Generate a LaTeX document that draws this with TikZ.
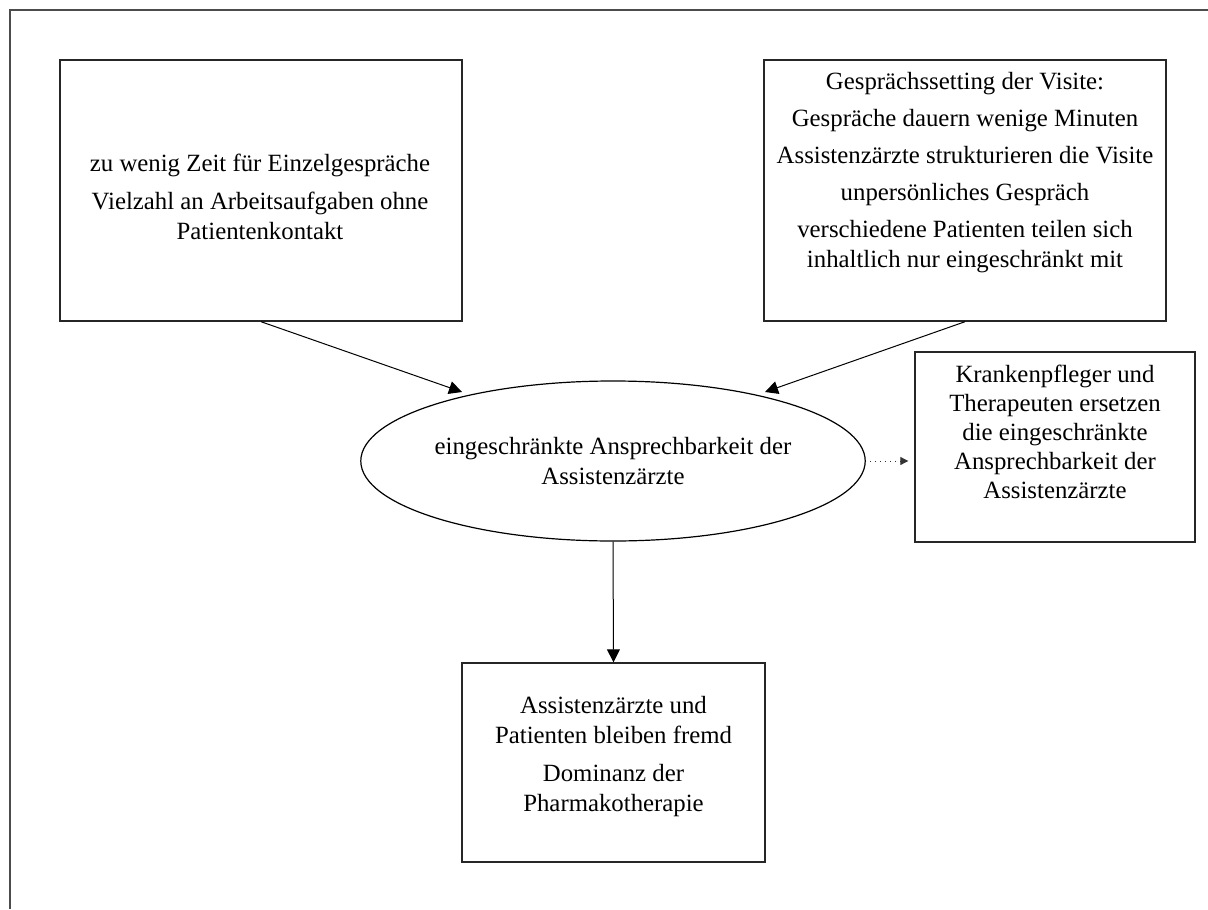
\documentclass[tikz,border=0pt]{standalone}
\usepackage{fontspec}
\setmainfont{Liberation Serif}
\usetikzlibrary{shapes.geometric,arrows.meta}

\tikzset{
  box/.style={draw=black!85, line width=0.7pt, rectangle, inner sep=0pt},
  oval/.style={draw=black, line width=0.6pt, ellipse, inner sep=0pt,
               minimum width=252pt, minimum height=80pt, align=center,
               font=\fontsize{12.4}{15}\selectfont},
  txt/.style={align=center, inner sep=0pt, font=\fontsize{12.4}{15}\selectfont},
  flow/.style={draw=black, line width=0.5pt, -{Triangle[length=6.5pt,width=6.5pt]}},
  hint/.style={draw=black!80, line width=0.5pt, dotted, -{Triangle[length=4pt,width=4pt]}},
  frame/.style={draw=black!70, line width=0.8pt}
}

\begin{document}
\begin{tikzpicture}[x=0.5pt, y=-0.5pt]
  \useasboundingbox (0,0) rectangle (1208,909);

  % outer frame: only the top and left edges fall inside the page
  \coordinate (fTR) at (1208,10);
  \coordinate (fTL) at (10,10);
  \coordinate (fBL) at (10,909);
  \draw[frame] (fTR) -- (fTL) -- (fBL);

  % causes
  \node[box, minimum width=201pt, minimum height=130.5pt] (A) at (261,190.5) {};
  \node[txt] (Atext) at (260,197) {zu wenig Zeit für Einzelgespräche\\[4pt]
    Vielzahl an Arbeitsaufgaben ohne\\ Patientenkontakt};

  \node[box, minimum width=201pt, minimum height=130.5pt] (B) at (965,190.5) {};
  \node[txt] (Btext) at (965,173) {Gesprächssetting der Visite:\\[3.5pt]
    Gespräche dauern wenige Minuten\\[3.5pt]
    Assistenzärzte strukturieren die Visite\\[3.5pt]
    unpersönliches Gespräch\\[3.5pt]
    verschiedene Patienten teilen sich\\ inhaltlich nur eingeschränkt mit};

  % central phenomenon
  \node[oval] (E) at (613,461) {eingeschränkte Ansprechbarkeit der\\ Assistenzärzte};

  % compensation
  \node[box, minimum width=140pt, minimum height=95pt] (C) at (1055,447) {};
  \node[txt, font=\fontsize{12.4}{14.5}\selectfont] (Ctext) at (1055,432)
    {Krankenpfleger und\\ Therapeuten ersetzen\\ die eingeschränkte\\
     Ansprechbarkeit der\\ Assistenzärzte};

  % consequences
  \node[box, minimum width=151.5pt, minimum height=99.5pt] (D) at (613.5,762.5) {};
  \node[txt] (Dtext) at (613.5,757) {Assistenzärzte und\\ Patienten bleiben fremd\\[4pt]
    Dominanz der\\ Pharmakotherapie};

  % arrow tips just short of the ellipse outline
  \coordinate (tipA) at (462,392);
  \coordinate (tipB) at (765,392);

  \draw[flow] (A.south) -- (tipA);
  \draw[flow] (B.south) -- (tipB);
  \draw[flow] (E.south) -- (D.north);
  \draw[hint, shorten >=3pt, shorten <=2pt] (E.east) -- (E.east -| C.west);
\end{tikzpicture}
\end{document}
